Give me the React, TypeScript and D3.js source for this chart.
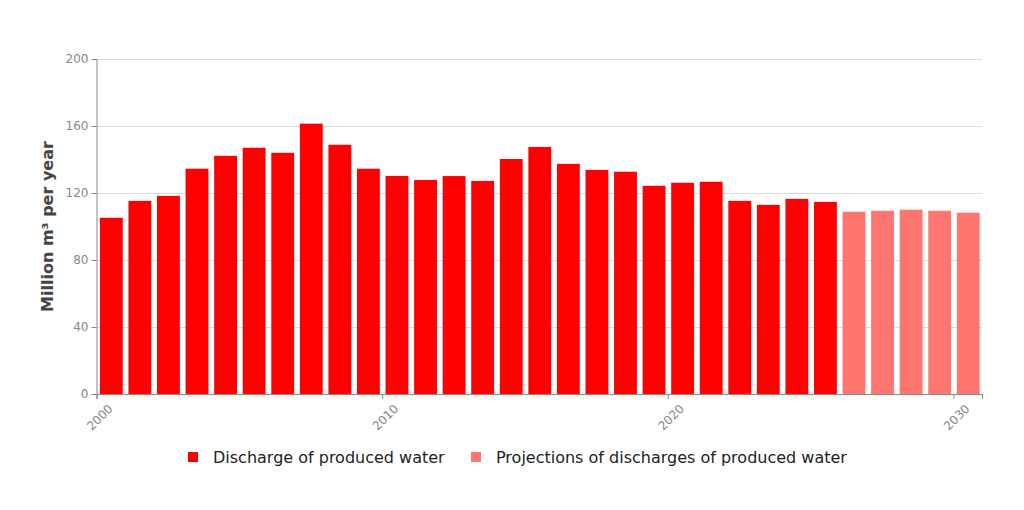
import * as d3 from 'd3';
import { useEffect, useRef } from 'react';

const years = d3.range(2000, 2031);
const discharge = [
  105.2, 115.3, 118.3, 134.5, 142.2, 147.0, 144.0, 161.4, 148.8, 134.5,
  130.2, 127.8, 130.1, 127.2, 140.3, 147.5, 137.4, 133.8, 132.7, 124.3,
  126.1, 126.7, 115.3, 112.9, 116.5, 114.7,
];
const projections = [108.8, 109.4, 110.0, 109.4, 108.2];
const yTicks = [0, 40, 80, 120, 160, 200];
const xTicks = [2000, 2010, 2020, 2030];
const seriesNames = ['Discharge of produced water', 'Projections of discharges of produced water'];
const colors = ['#ff0000', '#ff7570'];

const width = 1024;
const height = 510;
const margin = { top: 59, right: 42, bottom: 116, left: 96.5 };

const App = () => {
  const ref = useRef<SVGSVGElement | null>(null);

  useEffect(() => {
    const svg = d3.select(ref.current!);
    svg.selectAll('*').remove();

    const font = 'DejaVu Sans, sans-serif';
    const x = d3.scaleLinear().domain([2000, 2031]).range([margin.left, width - margin.right]);
    const y = d3.scaleLinear().domain([0, 200]).range([height - margin.bottom, margin.top]);

    // grid
    svg.append('g')
      .selectAll('line')
      .data(yTicks.slice(1))
      .enter()
      .append('line')
      .attr('x1', margin.left)
      .attr('x2', width - margin.right)
      .attr('y1', d => y(d) + 0.5)
      .attr('y2', d => y(d) + 0.5)
      .attr('stroke', '#dcdcdc')
      .attr('stroke-width', 1);

    const rows = [
      ...discharge.map((v, i) => ({ year: years[i], value: v, s: 0 })),
      ...projections.map((v, i) => ({ year: years[discharge.length + i], value: v, s: 1 })),
    ];

    const step = x(2001) - x(2000);
    svg.append('g')
      .selectAll('rect')
      .data(rows)
      .enter()
      .append('rect')
      .attr('x', d => x(d.year) + 3.4)
      .attr('width', step * 0.8)
      .attr('y', d => y(d.value))
      .attr('height', d => y(0) - y(d.value))
      .attr('fill', d => colors[d.s]);

    // y axis
    const yAxis = d3.axisLeft(y).tickValues(yTicks).tickSize(5).tickPadding(3);
    const gy = svg.append('g').attr('transform', `translate(${margin.left},0)`).call(yAxis);
    gy.select('.domain').attr('stroke', '#888');
    gy.selectAll('.tick line').attr('stroke', '#888');
    gy.selectAll('.tick text').attr('fill', '#888').attr('font-size', 12).attr('font-family', font);

    // x axis
    const xAxis = d3.axisBottom(x).tickValues(xTicks).tickSize(5).tickSizeOuter(5).tickFormat(d3.format('d'));
    const gx = svg.append('g').attr('transform', `translate(0,${height - margin.bottom})`).call(xAxis);
    gx.select('.domain').attr('stroke', '#888');
    gx.selectAll('.tick line').attr('stroke', '#888');
    gx.selectAll('.tick text')
      .attr('fill', '#888')
      .attr('font-size', 12)
      .attr('font-family', font)
      .attr('text-anchor', 'end')
      .attr('y', 0)
      .attr('dy', 0)
      .attr('transform', 'translate(16.5,15.5) rotate(-45)');

    // y title
    svg.append('text')
      .attr('transform', `translate(53,${(margin.top + height - margin.bottom) / 2}) rotate(-90)`)
      .attr('text-anchor', 'middle')
      .attr('font-family', font)
      .attr('font-size', 16)
      .attr('font-weight', 'bold')
      .attr('fill', '#444')
      .text('Million m³ per year');

    // legend
    const legendX = [188, 471];
    const lg = svg.append('g')
      .selectAll('g')
      .data(seriesNames)
      .enter()
      .append('g')
      .attr('transform', (d, i) => `translate(${legendX[i]},452)`);
    lg.append('rect').attr('width', 10).attr('height', 10).attr('fill', (d, i) => colors[i]);
    lg.append('text')
      .attr('x', 25)
      .attr('y', 11)
      .attr('font-family', font)
      .attr('font-size', 16)
      .attr('fill', '#222')
      .text(d => d);
  }, []);

  return <svg ref={ref} width={width} height={height} style={{ position: 'absolute', left: 0, top: 0, background: '#fff' }} />;
};

export default App;
